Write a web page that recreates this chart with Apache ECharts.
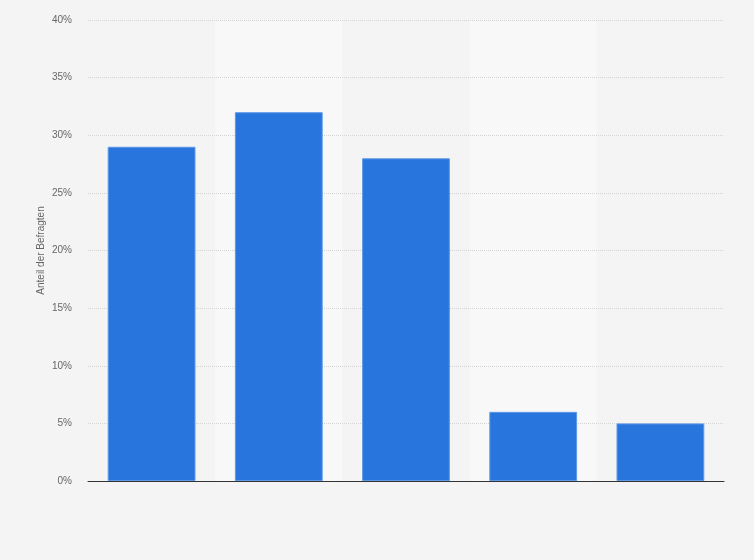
<!DOCTYPE html>
<html>
<head>
<meta charset="utf-8">
<script src="https://cdn.jsdelivr.net/npm/echarts@6/dist/echarts.min.js"></script>
<style>
    html, body { margin: 0; padding: 0; background: #f4f4f4; }
    #container { width: 754px; height: 560px; }
</style>
</head>
<body>
<div id="container"></div>
<script>
    // values (percent of respondents)
    var categories = ['A', 'B', 'C', 'D', 'E'];
    var shares = [29, 32, 28, 6, 5];
    var yTicks = [0, 5, 10, 15, 20, 25, 30, 35, 40];

    var chart = echarts.init(document.getElementById('container'));
    chart.setOption({
        backgroundColor: '#f4f4f4',
        animation: false,
        grid: {left: 88, right: 30, top: 20, bottom: 79},
        xAxis: {
            type: 'category',
            data: categories,
            z: 0,
            axisLine: {lineStyle: {color: '#333', width: 1}},
            axisTick: {show: false},
            axisLabel: {show: false},
            splitArea: {show: true, areaStyle: {color: ['rgba(0,0,0,0)', '#f8f8f8']}}
        },
        yAxis: {
            type: 'value',
            z: 1,
            min: yTicks[0],
            max: yTicks[yTicks.length - 1],
            interval: 5,
            name: 'Anteil der Befragten',
            nameLocation: 'middle',
            nameGap: 42,
            nameMoveOverlap: false,
            nameTextStyle: {color: '#666', fontSize: 10, fontFamily: 'Liberation Sans'},
            axisLine: {show: false},
            axisTick: {show: false},
            axisLabel: {
                color: '#666',
                fontSize: 10,
                fontFamily: 'Liberation Sans',
                margin: 16,
                formatter: '{value}%'
            },
            splitLine: {showMinLine: false, lineStyle: {type: 'dotted', color: '#d4d4d4'}}
        },
        series: [{
            type: 'bar',
            data: shares,
            barWidth: '69%',
            z: 2,
            itemStyle: {color: '#2876dd', borderColor: '#5b98e6', borderWidth: 1}
        }]
    });
</script>
</body>
</html>
